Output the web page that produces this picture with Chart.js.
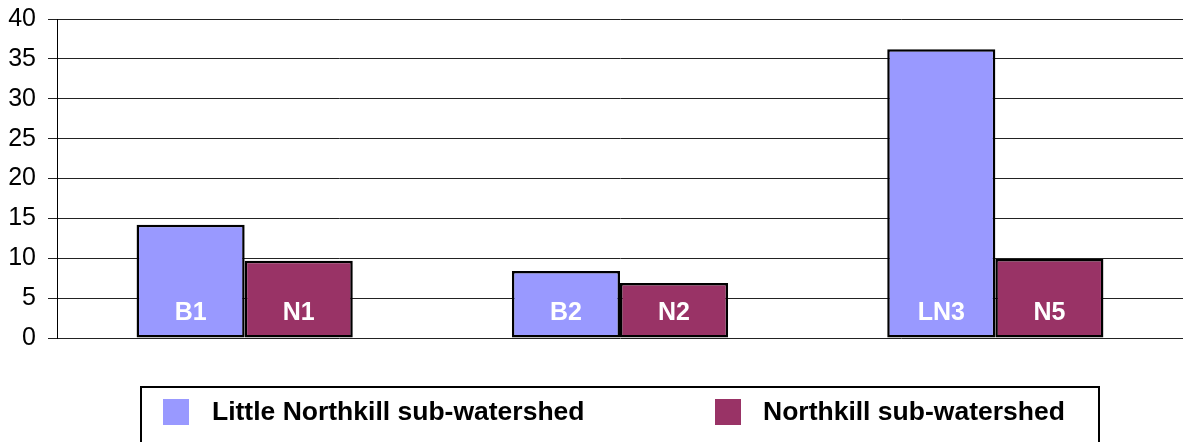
<!DOCTYPE html>
<html>
<head>
<meta charset="utf-8">
<script src="https://cdn.jsdelivr.net/npm/chart.js"></script>
<style>
  html, body { margin: 0; padding: 0; background: #fff; }
  #wrap { width: 1183px; height: 442px; position: relative; }
</style>
</head>
<body>
<div id="wrap"><canvas id="siteChart"></canvas></div>
<script>
// data
var groups = ['1', '2', '3'];
var littleLabels = ['B1', 'B2', 'LN3'];
var northLabels = ['N1', 'N2', 'N5'];
var littleValues = [14.2, 8.4, 36.2];
var northValues = [9.7, 6.9, 9.9];
var yTicks = [0, 5, 10, 15, 20, 25, 30, 35, 40];
var seriesNames = ['Little Northkill sub-watershed', 'Northkill sub-watershed'];

var fontName = '"Liberation Sans", Arial, sans-serif';

// white names inside each bar
var barNames = {
  id: 'barNames',
  afterDatasetsDraw: function(chart) {
    var ctx = chart.ctx;
    var names = [littleLabels, northLabels];
    ctx.save();
    ctx.fillStyle = '#fff';
    ctx.font = 'bold 25px ' + fontName;
    ctx.textAlign = 'center';
    ctx.textBaseline = 'alphabetic';
    chart.data.datasets.forEach(function(ds, i) {
      chart.getDatasetMeta(i).data.forEach(function(bar, j) {
        ctx.fillText(names[i][j], bar.x, chart.chartArea.bottom - 18);
      });
    });
    ctx.restore();
  }
};

// boxed legend under the plot
var boxLegend = {
  id: 'boxLegend',
  afterDraw: function(chart) {
    var ctx = chart.ctx;
    var items = [{ sw: 163, tx: 212 }, { sw: 715, tx: 763 }];
    ctx.save();
    ctx.strokeStyle = '#000';
    ctx.lineWidth = 2;
    ctx.strokeRect(141, 387, 958, 80);
    ctx.font = 'bold 26.5px ' + fontName;
    ctx.textBaseline = 'middle';
    chart.data.datasets.forEach(function(ds, i) {
      ctx.fillStyle = ds.backgroundColor;
      ctx.fillRect(items[i].sw, 399, 26, 26);
      ctx.fillStyle = '#000';
      ctx.fillText(ds.label, items[i].tx, 413);
    });
    ctx.restore();
  }
};

new Chart('siteChart', {
  type: 'bar',
  data: {
    labels: groups,
    datasets: [{
      label: seriesNames[0],
      data: littleValues,
      backgroundColor: '#9999FF',
      borderColor: '#000',
      borderWidth: 2.5,
      borderSkipped: false
    }, {
      label: seriesNames[1],
      data: northValues,
      backgroundColor: '#993366',
      borderColor: '#000',
      borderWidth: 2.5,
      borderSkipped: false
    }]
  },
  options: {
    responsive: true,
    maintainAspectRatio: false,
    animation: false,
    categoryPercentage: 0.576,
    barPercentage: 1.0,
    layout: { padding: { left: 0, right: 0, top: 19, bottom: 104 } },
    plugins: {
      legend: { display: false },
      tooltip: { enabled: false }
    },
    scales: {
      x: { display: false },
      y: {
        min: 0,
        max: 40,
        afterBuildTicks: function(axis) {
          axis.ticks = yTicks.map(function(v) { return { value: v }; });
        },
        afterFit: function(axis) {
          axis.width = 57;
          axis.paddingTop = 0;
          axis.paddingBottom = 0;
        },
        grid: { color: '#222', lineWidth: 1, tickLength: 9 },
        border: { display: true, color: '#000', width: 1 },
        ticks: {
          color: '#000',
          padding: 12,
          font: { family: fontName, size: 25 }
        }
      }
    }
  },
  plugins: [barNames, boxLegend]
});
</script>
</body>
</html>
